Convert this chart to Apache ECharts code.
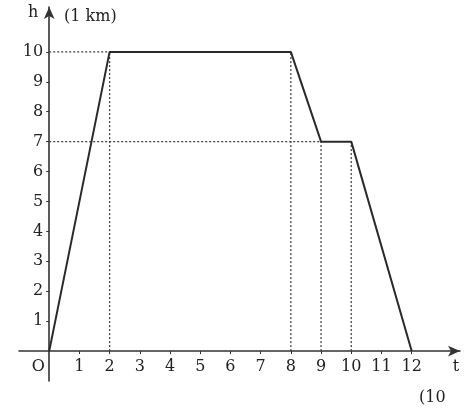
<!DOCTYPE html>
<html><head><meta charset="utf-8">
<script src="https://cdn.jsdelivr.net/npm/echarts@6/dist/echarts.min.js"></script>
<style>html,body{margin:0;padding:0;background:#fff}#c{width:468px;height:414px}</style>
</head><body><div id="c"></div>
<script>
const tValues = [0, 2, 8, 9, 10, 12];
const hValues = [0, 10, 10, 7, 7, 0];
const xTickLabels = ['O','1','2','3','4','5','6','7','8','9','10','11','12'];
const yTickLabels = ['1','2','3','4','5','6','7','8','9','10'];

const profile = tValues.map((t, i) => [t, hValues[i]]);
// dotted guides derived from the vertices
const guides = [];
const seenLevel = {};
for (let i = 1; i < profile.length - 1; i++) {
  const [t, h] = profile[i];
  guides.push([[t, 0], [t, h]]);
  if (!seenLevel[h]) { seenLevel[h] = true; guides.push([[0, h], [t, h]]); }
}
const xTickVals = xTickLabels.map((_, i) => i);
const yTickVals = yTickLabels.map((_, i) => i + 1);

const font = 'DejaVu Serif';
const txt = '#222';
const W = 468, H = 414;
const G = { left: 19, right: 8, top: 7, bottom: 33 };
const xMin = -1, xMax = 13.6, yMin = -1, yMax = 11.5;
const xUnit = (W - G.left - G.right) / (xMax - xMin);
const yUnit = (H - G.top - G.bottom) / (yMax - yMin);

const chart = echarts.init(document.getElementById('c'));
const series = [{
  type: 'line', data: profile, symbol: 'none', z: 5,
  lineStyle: { color: '#2a2a2a', width: 2 }
}];
guides.forEach(g => series.push({
  type: 'line', data: g, symbol: 'none', silent: true, z: 3,
  lineStyle: { color: '#444', width: 1.3, type: [2, 2] }
}));
chart.setOption({
  animation: false,
  backgroundColor: '#fff',
  title: [
    { text: '(1 km)', left: 59, top: 4, textStyle: { fontFamily: font, fontSize: 16, fontWeight: 'normal', color: txt } },
    { text: '(10', left: 414, top: 385, textStyle: { fontFamily: font, fontSize: 16, fontWeight: 'normal', color: txt } }
  ],
  grid: { left: G.left, right: G.right, top: G.top, bottom: G.bottom, containLabel: false, outerBoundsMode: 'none' },
  xAxis: {
    type: 'value', min: xMin, max: xMax, interval: 1,
    offset: -(0 - yMin) * yUnit,
    axisLine: { onZero: false, symbol: ['none', 'arrow'], symbolSize: [8, 12], lineStyle: { color: '#333', width: 1.6 } },
    axisTick: { show: true, length: 3, customValues: xTickVals.slice(1), lineStyle: { color: '#333' } },
    splitLine: { show: false },
    axisLabel: {
      margin: 8, fontFamily: font, fontSize: 16, color: txt,
      customValues: xTickVals,
      formatter: v => v === 0 ? '{o|' + xTickLabels[0] + '}' : xTickLabels[v],
      rich: { o: { fontFamily: font, fontSize: 16, color: txt, padding: [0, 22, 0, 0] } }
    },
    name: 't', nameLocation: 'end', nameGap: -4,
    nameTextStyle: { fontFamily: font, fontSize: 16, color: txt, align: 'center', verticalAlign: 'top', padding: [8, 0, 0, 0] }
  },
  yAxis: {
    type: 'value', min: yMin, max: yMax, interval: 1,
    offset: -(0 - xMin) * xUnit,
    axisLine: { onZero: false, symbol: ['none', 'arrow'], symbolSize: [8, 12], lineStyle: { color: '#333', width: 1.6 } },
    axisTick: { show: true, length: 3, customValues: yTickVals, lineStyle: { color: '#333' } },
    splitLine: { show: false },
    axisLabel: {
      margin: 6, fontFamily: font, fontSize: 16, color: txt,
      customValues: yTickVals,
      formatter: v => yTickLabels[v - 1]
    },
    name: 'h', nameLocation: 'end', nameGap: 2,
    nameTextStyle: { fontFamily: font, fontSize: 16, color: txt, align: 'right', verticalAlign: 'top', padding: [0, 11, 0, 0] }
  },
  series: series
});
</script></body></html>
